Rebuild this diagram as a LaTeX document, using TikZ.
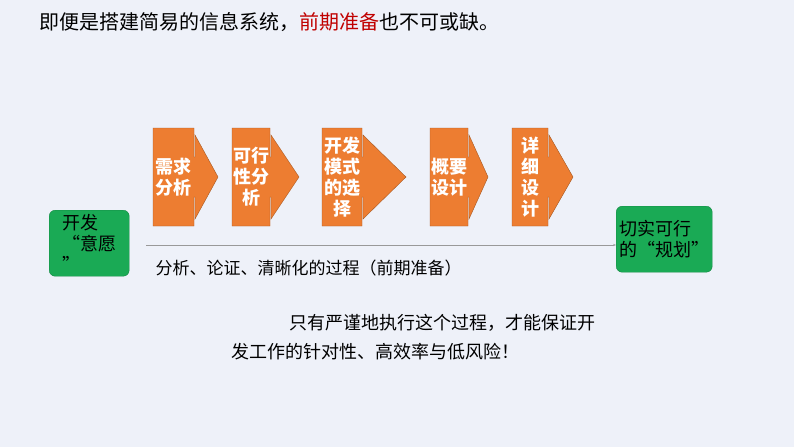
\documentclass[tikz,border=0pt]{standalone}
\usepackage{fontspec}
\setmainfont{Noto Sans CJK SC}
\usetikzlibrary{shapes.arrows,arrows.meta}
\definecolor{bg}{HTML}{EEF1F9}
\definecolor{org}{HTML}{ED7D31}
\definecolor{grn}{HTML}{1AAA55}
\definecolor{redt}{HTML}{C00000}
\tikzset{
 stepbox/.style={fill=org,draw=org!70!black,line width=0.4pt},
 stxt/.style={text=white,font=\fontsize{18}{21}\selectfont\bfseries,align=center,inner sep=0},
 gbox/.style={fill=grn,draw=grn!80!black,rounded corners=6pt,minimum width=80pt,minimum height=66pt,align=left,font=\fontsize{18}{21}\selectfont,inner sep=3pt}
}
\newcommand{\stepshape}[6]{% name, x1, x2, tip, ytop, ybot
 \draw[stepbox] (#2,#5) -- (#3,#5) -- (#3,157) -- (#3+1,157) -- (#3+1,135) -- (#4,177) -- (#3+1,219) -- (#3+1,197) -- (#3,197) -- (#3,#6) -- (#2,#6) -- cycle;
 \coordinate (#1) at ({(#2+#3)/2},177);}
\begin{document}
\begin{tikzpicture}[x=1pt,y=-1pt]
\fill[bg] (0,0) rectangle (794,447);
\useasboundingbox (0,0) rectangle (794,447);
\node[anchor=west,font=\fontsize{20}{24}\selectfont] (title) at (36,22) {即便是搭建简易的信息系统，\textcolor{redt}{前期准备}也不可或缺。};
\stepshape{s1}{153}{194}{218}{128}{226}
\stepshape{s2}{232}{270}{299}{128}{226}
\stepshape{s3}{322}{362}{406}{128}{226}
\stepshape{s4}{430}{468}{488}{128}{226}
\stepshape{s5}{512}{548}{573}{128}{226}
\node[stxt] at (s1) {需求\\分析};
\node[stxt] at (s2) {可行\\性分\\析};
\node[stxt] at (s3) {开发\\模式\\的选\\择};
\node[stxt] at (s4) {概要\\设计};
\node[stxt] at (s5) {详\\细\\设\\计};
\node[gbox,anchor=north west] (g1) at (49,210) {开发\\ “意愿\\”};
\node[gbox,anchor=north west] (g2) at (616,206) {切实可行\\的“规划”};
\coordinate (l1) at (146,245);
\draw[gray!80,line width=0.5pt,-{Stealth[length=3pt]}] (l1) -- (g2.west|-l1);
\node[anchor=west,font=\fontsize{17}{20}\selectfont] (cap) at (152,268) {分析、论证、清晰化的过程（前期准备）};
\node[anchor=west,font=\fontsize{18}{29}\selectfont,align=left] (msg) at (228,337) {\hspace*{3.2em}只有严谨地执行这个过程，才能保证开\\发工作的针对性、高效率与低风险！};
\end{tikzpicture}
\end{document}
